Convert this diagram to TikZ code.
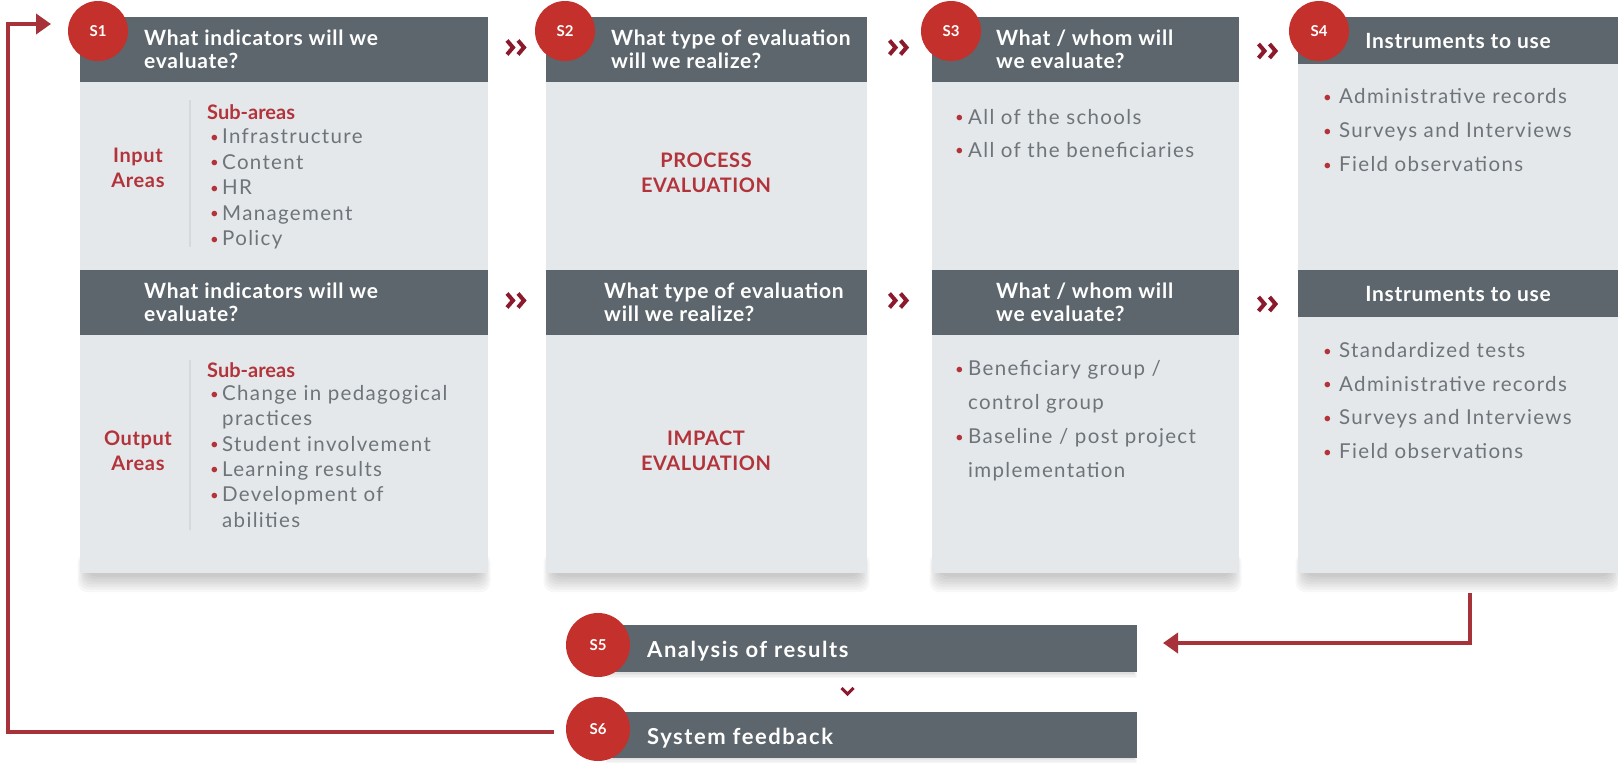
\documentclass[tikz,border=0pt]{standalone}
\usepackage{fontspec}
\setmainfont{Lato}
\newfontfamily\fBody[LetterSpace=6.5]{Lato}
\newfontfamily\fHdr[LetterSpace=3.5]{Lato}
\newfontfamily\fRed[LetterSpace=3]{Lato}
\newfontfamily\fBot[LetterSpace=7]{Lato}
\usetikzlibrary{arrows.meta,calc}
\definecolor{cHdr}{HTML}{5C666C}
\definecolor{cBody}{HTML}{E5E8EB}
\definecolor{cCirc}{HTML}{C4302B}
\definecolor{cRed}{HTML}{B3333B}
\definecolor{cGray}{HTML}{6D757A}
\definecolor{cChev}{HTML}{8C1A2C}
\definecolor{cLine}{HTML}{A8323A}
\definecolor{cDiv}{HTML}{D5D9DC}
\newlength\bulw
\setlength\bulw{12pt}
\newcommand\bul{\makebox[\bulw][l]{\raisebox{1.5pt}{\fontsize{15}{15}\selectfont\textcolor{cRed}{•}}}}
\newcommand\nob{\hspace*{\bulw}}
\newcommand\textlines[6]{\foreach \itm [count=\i] in {#6} {\node[#2] (#1\i) at (#3,{#4+#5*(\i-1)}) {\itm};}}
\newcommand\softshadow[3]{\foreach \k in {1,...,7} {\fill[black, opacity=0.03, rounded corners=10pt] ({#1+8-\k*1.5},{#3-20}) rectangle ({#2-8+\k*1.5},{#3+1+\k*2.6});}}
\begin{document}
\begin{tikzpicture}[x=1pt,y=-1pt,
  colbox/.style={rectangle, fill=cBody, inner sep=0pt, outer sep=0pt, anchor=north west},
  hdrbox/.style={rectangle, fill=cHdr, inner sep=0pt, outer sep=0pt, anchor=north west},
  stepcirc/.style={circle, fill=cCirc, inner sep=0pt, minimum size=60pt, text=white,
    font=\fontsize{15}{15}\selectfont\bfseries},
  htxt/.style={anchor=base west, inner sep=0pt, text=white, font=\fontsize{21}{23}\selectfont\fHdr\bfseries},
  htxtc/.style={anchor=base, inner sep=0pt, text=white, font=\fontsize{21}{23}\selectfont\fHdr\bfseries},
  bottxt/.style={anchor=base west, inner sep=0pt, text=white, font=\fontsize{22}{24}\selectfont\fBot\bfseries},
  rtxt/.style={anchor=base west, inner sep=0pt, text=cRed, font=\fontsize{20}{24}\selectfont\bfseries},
  rtxtc/.style={anchor=base, inner sep=0pt, text=cRed, font=\fontsize{20}{24}\selectfont\fRed\bfseries},
  btxt/.style={anchor=base west, inner sep=0pt, text=cGray, font=\fontsize{20.5}{24}\selectfont\fBody},
  divline/.style={draw=cDiv, line width=1.2pt},
  chevline/.style={draw=cChev, line width=4pt, line join=miter, line cap=butt},
  conn/.style={draw=cLine, line width=4pt, line join=miter},
  pics/dchev/.style={code={\draw[chevline] (-10,-7)--(-4,0)--(-10,7); \draw[chevline] (1,-7)--(7,0)--(1,7);}}
]
\useasboundingbox (0,0) rectangle (1618,763);
\fill[white] (0,0) rectangle (1618,763);

% soft shadows under the columns and the bottom bars
\softshadow{80}{488}{573}
\softshadow{546}{867}{573}
\softshadow{932}{1239}{573}
\softshadow{1298}{1618}{573}
\foreach \k in {1,...,4} {\fill[black, opacity=0.03] ({610-\k},665) rectangle ({1133+\k},{672+\k*1.5});}
\foreach \k in {1,...,4} {\fill[black, opacity=0.03] ({610-\k},752) rectangle ({1133+\k},{758+\k*1.2});}

% columns
\node[colbox, minimum width=408pt, minimum height=556pt] (col1) at (80,17) {};
\node[colbox, minimum width=321pt, minimum height=556pt] (col2) at (546,17) {};
\node[colbox, minimum width=307pt, minimum height=556pt] (col3) at (932,17) {};
\node[colbox, minimum width=320pt, minimum height=556pt] (col4) at (1298,17) {};

% headers
\node[hdrbox, minimum width=408pt, minimum height=65pt] (h1a) at (80,17) {};
\node[hdrbox, minimum width=321pt, minimum height=65pt] (h2a) at (546,17) {};
\node[hdrbox, minimum width=307pt, minimum height=65pt] (h3a) at (932,17) {};
\node[hdrbox, minimum width=320pt, minimum height=47pt] (h4a) at (1298,17) {};
\node[hdrbox, minimum width=408pt, minimum height=65pt] (h1b) at (80,270) {};
\node[hdrbox, minimum width=321pt, minimum height=65pt] (h2b) at (546,270) {};
\node[hdrbox, minimum width=307pt, minimum height=65pt] (h3b) at (932,270) {};
\node[hdrbox, minimum width=320pt, minimum height=47pt] (h4b) at (1298,270) {};

% header texts
\textlines{t1a}{htxt}{144}{45.5}{23}{What indicators will we, evaluate?}
\textlines{t1b}{htxt}{144}{298}{23}{What indicators will we, evaluate?}
\textlines{t2a}{htxt}{611}{45.5}{23}{What type of evaluation, will we realize?}
\textlines{t2b}{htxt}{604}{298}{23}{What type of evaluation, will we realize?}
\textlines{t3a}{htxt}{996}{45.5}{23}{What / whom will, we evaluate?}
\textlines{t3b}{htxt}{996}{298}{23}{What / whom will, we evaluate?}
\node[htxtc] (t4a) at (1458,48) {Instruments to use};
\node[htxtc] (t4b) at (1458,301) {Instruments to use};

% step circles
\node[stepcirc] (c1) at (98,31) {S1};
\node[stepcirc] (c2) at (565,31) {S2};
\node[stepcirc] (c3) at (951,31) {S3};
\node[stepcirc] (c4) at (1319,31) {S4};

% column 1 body
\draw[divline] (190,100) -- (190,247);
\draw[divline] (190,360) -- (190,530);
\node[rtxt] (sa1) at (207,119) {Sub-areas};
\node[rtxt] (sa2) at (207,377.5) {Sub-areas};
\textlines{ia}{rtxtc}{138}{162.5}{25}{Input, Areas}
\textlines{oa}{rtxtc}{138}{445.5}{25}{Output, Areas}
\setlength\bulw{12pt}
\textlines{l1a}{btxt}{210}{143.5}{25.5}{\bul Infrastructure, \bul Content, \bul HR, \bul Management, \bul Policy}
\textlines{l1b}{btxt}{210}{400.5}{25.3}{\bul Change in pedagogical, \nob practices, \bul Student involvement, \bul Learning results, \bul Development of, \nob abilities}

% column 2 body
\textlines{pe}{rtxtc}{706}{167.5}{25}{PROCESS, EVALUATION}
\textlines{ie}{rtxtc}{706}{445}{25}{IMPACT, EVALUATION}

% column 3 body
\setlength\bulw{13pt}
\textlines{l3a}{btxt}{955}{124}{33}{\bul All of the schools, \bul All of the beneficiaries}
\textlines{l3b}{btxt}{955}{375.5}{34}{\bul Beneficiary group /, \nob control group, \bul Baseline / post project, \nob implementation}

% column 4 body
\setlength\bulw{16pt}
\textlines{l4a}{btxt}{1323}{103.5}{34}{\bul Administrative records, \bul Surveys and Interviews, \bul Field observations}
\textlines{l4b}{btxt}{1323}{357.5}{33.7}{\bul Standardized tests, \bul Administrative records, \bul Surveys and Interviews, \bul Field observations}

% chevrons between columns
\pic at ($(h1a.east)!0.5!(h2a.west)+(0,-2)$) {dchev};
\pic at ($(h2a.east)!0.5!(h3a.west)+(0,-2)$) {dchev};
\pic at ($(h3a.east)!0.5!(h4a.west)+(0,6)$) {dchev};
\pic at ($(h1b.east)!0.5!(h2b.west)+(0,-2)$) {dchev};
\pic at ($(h2b.east)!0.5!(h3b.west)+(0,-2)$) {dchev};
\pic at ($(h3b.east)!0.5!(h4b.west)+(0,6)$) {dchev};

% bottom steps
\node[hdrbox, minimum width=537pt, minimum height=47pt] (s5) at (600,625) {};
\node[hdrbox, minimum width=537pt, minimum height=46pt] (s6) at (600,712) {};
\node[bottxt] (t5) at (647,657) {Analysis of results};
\node[bottxt] (t6) at (647,744) {System feedback};
\node[stepcirc, minimum size=64pt] (c5) at (598,645) {S5};
\node[stepcirc, minimum size=64pt] (c6) at (598,729) {S6};
\draw[chevline, line width=3pt] ($(s5.south)!0.5!(s6.north)+(-27,-4)$) coordinate (dvA) -- ++(6,6) -- ++(6,-6);

% connectors
\coordinate (rtTop) at (1470,593);
\coordinate (rtCorner) at (1470,643);
\coordinate (rtEnd) at (1163,643);
\draw[conn, -{Triangle[length=15pt,width=20pt]}] (rtTop) -- (rtCorner) -- (rtEnd);
\coordinate (fbStart) at ($(c6.west)+(-12,3)$);
\coordinate (fbBL) at (8,732);
\coordinate (fbTL) at (8,24);
\coordinate (fbEnd) at (51,24);
\draw[conn, -{Triangle[length=15pt,width=20pt]}] (fbStart) -- (fbBL) -- (fbTL) -- (fbEnd);
\end{tikzpicture}
\end{document}
